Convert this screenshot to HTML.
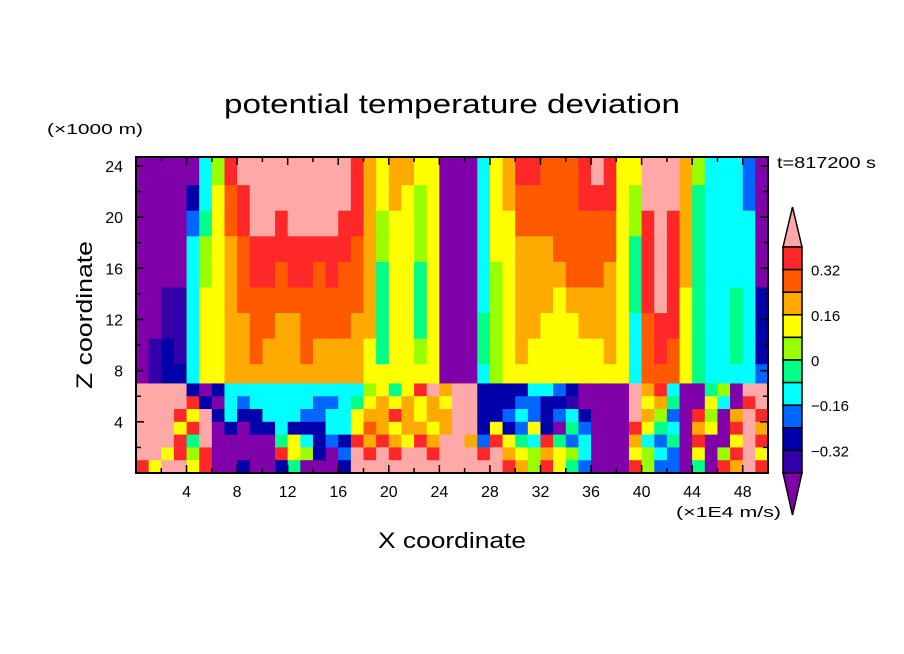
<!DOCTYPE html>
<html><head><meta charset="utf-8"><style>
html,body{margin:0;padding:0;background:#fff;}
svg{display:block;font-family:"Liberation Sans",sans-serif;}
</style></head><body>
<svg id="chart" width="904" height="654" viewBox="0 0 904 654">
<text x="224" y="113" font-size="27" textLength="456" lengthAdjust="spacingAndGlyphs">potential temperature deviation</text>
<text x="47" y="134" font-size="15" textLength="96" lengthAdjust="spacingAndGlyphs">(×1000 m)</text>
<text x="777" y="168" font-size="16" textLength="99" lengthAdjust="spacingAndGlyphs">t=817200 s</text>
<text x="676" y="517" font-size="15" textLength="105" lengthAdjust="spacingAndGlyphs">(×1E4 m/s)</text>
<text x="378" y="548" font-size="22" textLength="148" lengthAdjust="spacingAndGlyphs">X coordinate</text>
<text x="0" y="0" text-anchor="middle" font-size="22" textLength="148" lengthAdjust="spacingAndGlyphs" transform="translate(92,315) rotate(-90)">Z coordinate</text>
<g id="field"></g>
<g id="axes"></g>
<g id="cbar"></g>
</svg>
<script>
// grid data: each char = contour level class per 1-unit x column
const upperEdges = [24.7,22.5,20.5,18.5,16.5,14.5,12.5,10.5,8.5,7];
const upperRows = [
"VVVVVCLRPPPPPPPPPRAYAAYYVVVCYARROOORPRYYPPPALCCCBV",
"VVVVDCYORPPPPPPPPRAYAYLYVVVCYAOOOOORRRYLPPPAGCCCBV",
"VVVVBGYORPPRPPPPRRALYYLYVVVCYYOOOOOOOOYLRPRAGCCCCV",
"VVVVCLYAORRRRRRRROALYYLYVVVCYYAAAOOOOOYGRPRAGCCCCV",
"VVVVCLYAORRORRORO"+"OAGYYGY"+"VVV"+"CLYAAAAOOOAYGRPRAGCCCCV",
"VVIICYYAOOOOOOOOOOAGYYGYVVVCLYAAAYAAAAYGRPRYGCCGCD",
"VVIICYYAAOOAAOOOOAAGYYGYVVVGLYAAYYYAAAYCORRYGCCGCD",
"VIDICYYAAOAAAOAAAAYGYYLYVVVGLYAYYYYYYAYCOROYGCCGCD",
"VIDDCYY"+"AAAAAAAAAAA"+"YYYYYY"+"VVV"+"CL"+"YYYYYYYYYY"+"COOOYG"+"CCCC"+"B"
];
const lowerEdges = [7,6,5,4,3,2,1,0];
const lowerRows = [
"PPPP"+"D"+"V"+"D"+"CCCCCCCCCCC"+"LYGYRPA"+"PP"+"DDDD"+"CC"+"B"+"D"+"VVVV"+"PARC"+"VV"+"GLV"+"PP",
"PPPP"+"R"+"D"+"V"+"CBCCCCCBBC"+"GYAYAYAY"+"PP"+"DDD"+"BB"+"DD"+"I"+"VVVV"+"PYAG"+"VV"+"YCV"+"RP",
"PPP"+"RYPDCDDCCCBBCC"+"YAARAYAA"+"PP"+"DDBCBDBCD"+"VVV"+"PALB"+"VRLVA"+"PR",
"PPP"+"YRPVDVDDCDDDCC"+"YOAYAAYA"+"PP"+"DYDBYDVGB"+"VVV"+"RYGC"+"VAYVR"+"PA",
"PPP"+"RGPVVVVVGYCDBD"+"RARAYRAP"+"PA"+"BRYGCRGBC"+"VVV"+"ACBG"+"VRVVY"+"PR",
"PPY"+"RLRVVVVVRYLDVB"+"PRPRPPRP"+"PP"+"RPAYLAYLC"+"VVV"+"YLCB"+"VYVLR"+"PY",
"RYP"+"PYRVVDVVDGVVVD"+"PPPPPPPP"+"PP"+"PPRALRYGB"+"VVV"+"RLBB"+"VGVRA"+"PR"
];
const xTickLabels = [4,8,12,16,20,24,28,32,36,40,44,48];
const zTickLabels = [4,8,12,16,20,24];
const cbarLevels = ["R","O","A","Y","L","G","C","B","D","I"];
const cbarLabels = ["0.32","0.16","0","\u22120.16","\u22120.32"];
const xDomain = [0,50], zDomain = [0,24.7];

const COL = {P:"#ffa8a8",R:"#ff2828",O:"#ff5a00",A:"#ffaa00",Y:"#ffff00",L:"#99ff00",G:"#00ff88",C:"#00ffff",B:"#0066ff",D:"#0000aa",I:"#3300aa",V:"#8000aa"};
const L=136,R=768,T=157,Bt=473;
const sx=v=>L+(v-xDomain[0])/(xDomain[1]-xDomain[0])*(R-L);
const sz=v=>Bt-(v-zDomain[0])/(zDomain[1]-zDomain[0])*(Bt-T);
const NS="http://www.w3.org/2000/svg";
const mk=(t,a)=>{const e=document.createElementNS(NS,t);for(const k in a)e.setAttribute(k,a[k]);return e;};
const field=document.getElementById('field');
function drawRows(rows,edges){
  rows.forEach((row,ri)=>{
    for(let i=0;i<row.length;i++){
      const x0=sx(i),x1=sx(i+1),y0=sz(edges[ri]),y1=sz(edges[ri+1]);
      const r=mk('rect',{x:x0,y:y0,width:x1-x0+0.6,height:y1-y0+0.6,fill:COL[row[i]]||"#fff"});
      
      
      field.appendChild(r);
    }
  });
}
drawRows(upperRows,upperEdges);
drawRows(lowerRows,lowerEdges);

const axes=document.getElementById('axes');
const frame=mk('rect',{x:L,y:T,width:R-L,height:Bt-T,fill:"none",stroke:"#000","stroke-width":2});


axes.appendChild(frame);
for(let v=2;v<50;v+=2){
  const x=sx(v),len=(v%4===0)?8:5;
  axes.appendChild(mk('line',{x1:x,y1:Bt,x2:x,y2:Bt-len,stroke:"#000","stroke-width":1.5}));
  axes.appendChild(mk('line',{x1:x,y1:T,x2:x,y2:T+len,stroke:"#000","stroke-width":1.5}));
}
for(let v=2;v<25;v+=2){
  const y=sz(v),len=(v%4===0)?8:5;
  axes.appendChild(mk('line',{x1:L,y1:y,x2:L+len,y2:y,stroke:"#000","stroke-width":1.5}));
  axes.appendChild(mk('line',{x1:R,y1:y,x2:R-len,y2:y,stroke:"#000","stroke-width":1.5}));
}
xTickLabels.forEach(v=>{
  const t=mk('text',{x:sx(v),y:Bt+24,"text-anchor":"middle","font-size":16});
  t.textContent=v;
  
  
  axes.appendChild(t);
});
zTickLabels.forEach(v=>{
  const t=mk('text',{x:L-13,y:sz(v)+6,"text-anchor":"end","font-size":16});
  t.textContent=v;
  
  
  axes.appendChild(t);
});

const cb=document.getElementById('cbar');
const cx0=783,cx1=802,cTop=247,cBot=473,h=(cBot-cTop)/cbarLevels.length;
const up=mk('polygon',{points:`${(cx0+cx1)/2},207 ${cx0},${cTop} ${cx1},${cTop}`,fill:COL.P,stroke:"#000","stroke-width":1.5});


cb.appendChild(up);
cbarLevels.forEach((c,i)=>{
  const r=mk('rect',{x:cx0,y:cTop+i*h,width:cx1-cx0,height:h,fill:COL[c],stroke:"#000","stroke-width":1.5});
  
  
  cb.appendChild(r);
});
const dn=mk('polygon',{points:`${cx0},${cBot} ${cx1},${cBot} ${(cx0+cx1)/2},515`,fill:COL.V,stroke:"#000","stroke-width":1.5});


cb.appendChild(dn);
cbarLabels.forEach((s,i)=>{
  const t=mk('text',{x:811,y:cTop+(2*i+1)*h+6,"font-size":15});
  t.textContent=s;
  
  
  cb.appendChild(t);
});
</script>
</body></html>
